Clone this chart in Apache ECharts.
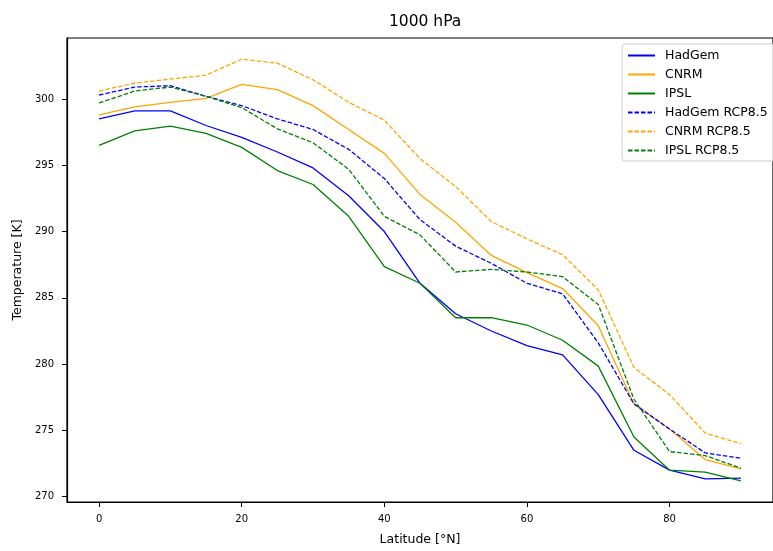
<!DOCTYPE html>
<html>
<head>
<meta charset="utf-8">
<script src="https://cdn.jsdelivr.net/npm/echarts@6/dist/echarts.min.js"></script>
<style>
  html, body { margin: 0; padding: 0; background: #fff; }
  #chart { width: 773px; height: 551px; }
</style>
</head>
<body>
<div id="chart"></div>
<script>
const lats = [0, 5, 10, 15, 20, 25, 30, 35, 40, 45, 50, 55, 60, 65, 70, 75, 80, 85, 90];

const hadgem = [298.5, 299.1, 299.1, 298.0, 297.1, 296.0, 294.8, 292.7, 290.0, 286.1, 283.8, 282.5, 281.4, 280.7, 277.7, 273.5, 272.0, 271.35, 271.4];
const cnrm = [298.8, 299.4, 299.75, 300.05, 301.1, 300.7, 299.5, 297.7, 295.9, 292.8, 290.7, 288.2, 286.9, 285.7, 282.9, 277.0, 275.1, 272.8, 272.1];
const ipsl = [296.5, 297.6, 297.95, 297.4, 296.35, 294.6, 293.55, 291.15, 287.35, 286.1, 283.5, 283.5, 282.95, 281.8, 279.85, 274.5, 272.0, 271.85, 271.2];
const hadgemRcp = [300.3, 300.9, 301.0, 300.2, 299.5, 298.5, 297.7, 296.2, 294.0, 290.9, 288.9, 287.6, 286.1, 285.3, 281.6, 277.0, 275.1, 273.3, 272.9];
const cnrmRcp = [300.6, 301.2, 301.5, 301.8, 303.0, 302.7, 301.45, 299.75, 298.4, 295.5, 293.4, 290.75, 289.45, 288.25, 285.6, 279.75, 277.7, 274.8, 274.0];
const ipslRcp = [299.7, 300.6, 300.9, 300.2, 299.35, 297.75, 296.7, 294.7, 291.15, 289.75, 286.95, 287.15, 286.95, 286.6, 284.5, 277.35, 273.4, 273.1, 272.15];

const xTicks = [0, 20, 40, 60, 80];
const yTicks = [270, 275, 280, 285, 290, 295, 300];

const chart = echarts.init(document.getElementById('chart'));

function pairs(vals) {
  return lats.map((x, i) => [x, vals[i]]);
}

function line(name, vals, color, dashed) {
  return {
    name: name,
    type: 'line',
    data: pairs(vals),
    symbol: 'none',
    animation: false,
    lineStyle: { color: color, width: 1.3, type: dashed ? [4.5, 2] : 'solid' },
    itemStyle: { color: color }
  };
}

const font = 'DejaVu Sans';

const option = {
  backgroundColor: '#fff',
  title: {
    text: '1000 hPa',
    left: 384,
    top: 9,
    textStyle: { fontFamily: font, fontSize: 15.5, fontWeight: 'normal', color: '#000' }
  },
  grid: {
    left: 67,
    top: 38,
    width: 715,
    height: 465,
    show: true,
    borderColor: '#000',
    borderWidth: 1.2
  },
  legend: {
    orient: 'vertical',
    left: 622,
    top: 44,
    itemWidth: 27,
    itemHeight: 10,
    itemGap: 4,
    padding: [4, 8, 3, 5],
    borderColor: '#ccc',
    borderWidth: 1,
    borderRadius: 3,
    backgroundColor: 'rgba(255,255,255,0.8)',
    itemStyle: { opacity: 0 },
    textStyle: { fontFamily: font, fontSize: 12.5, lineHeight: 15, color: '#000', padding: [0, 0, 0, 5] },
    data: ['HadGem', 'CNRM', 'IPSL', 'HadGem RCP8.5', 'CNRM RCP8.5', 'IPSL RCP8.5']
  },
  xAxis: {
    type: 'value',
    min: -4.5,
    max: 94.5,
    name: 'Latitude [°N]',
    nameLocation: 'middle',
    nameGap: 31,
    nameTextStyle: { fontFamily: font, fontSize: 12.5, color: '#000' },
    splitLine: { show: false },
    axisLine: { show: true, onZero: false, lineStyle: { color: '#000', width: 1.2 } },
    axisTick: { show: true, length: 5, lineStyle: { color: '#000' }, customValues: xTicks },
    axisLabel: { fontFamily: font, fontSize: 10, color: '#000', margin: 12, customValues: xTicks }
  },
  yAxis: {
    type: 'value',
    min: 269.6,
    max: 304.6,
    name: 'Temperature [K]',
    nameLocation: 'middle',
    nameGap: 43,
    nameTextStyle: { fontFamily: font, fontSize: 12.5, color: '#000' },
    splitLine: { show: false },
    axisLine: { show: true, onZero: false, lineStyle: { color: '#000', width: 1.2 } },
    axisTick: { show: true, length: 5, lineStyle: { color: '#000' }, customValues: yTicks },
    axisLabel: { fontFamily: font, fontSize: 10, color: '#000', margin: 13, customValues: yTicks }
  },
  series: [
    line('HadGem', hadgem, '#0000ff', false),
    line('CNRM', cnrm, '#ffa500', false),
    line('IPSL', ipsl, '#008000', false),
    line('HadGem RCP8.5', hadgemRcp, '#0000ff', true),
    line('CNRM RCP8.5', cnrmRcp, '#ffa500', true),
    line('IPSL RCP8.5', ipslRcp, '#008000', true)
  ]
};

chart.setOption(option);
</script>
</body>
</html>
